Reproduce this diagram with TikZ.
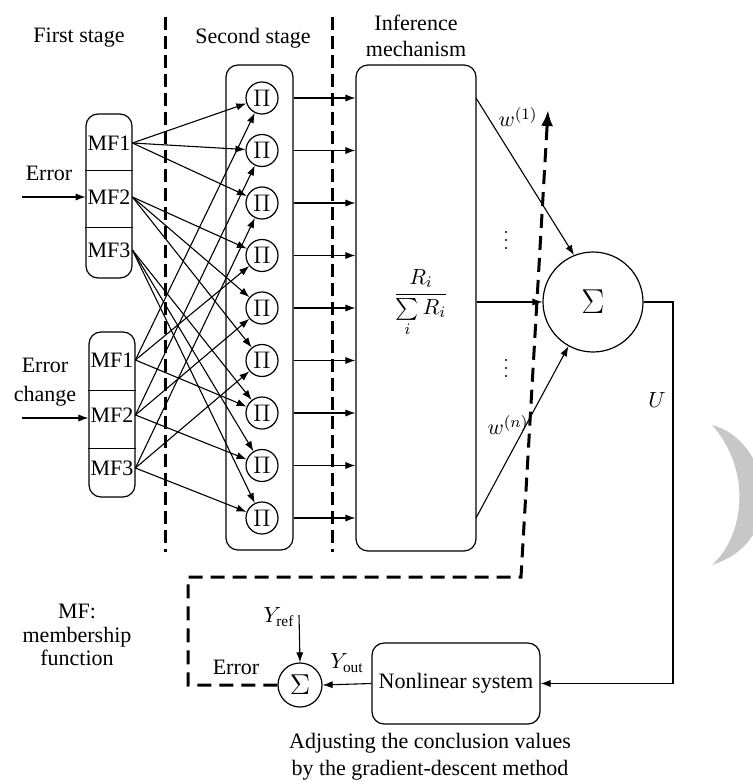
\documentclass[tikz,border=0pt]{standalone}
\usepackage{amsmath}
\usepackage{fontspec}
\setmainfont{Liberation Serif}
\usetikzlibrary{positioning, calc, arrows.meta}

\begin{document}
\begin{tikzpicture}[x=0.5pt, y=-0.5pt, font=\fontsize{11}{13}\selectfont,
    block/.style={draw, rounded corners=6pt, line width=0.6pt},
    mfcell/.style={inner sep=0pt, minimum width=23pt, minimum height=14pt},
    prod/.style={draw, circle, inner sep=0pt, minimum size=16pt, line width=0.6pt, font=\fontsize{13}{13}\selectfont},
    adder/.style={draw, circle, inner sep=0pt, line width=0.6pt},
    arrow/.style={-{Latex[length=5pt, width=3.6pt]}, line width=0.55pt},
    stagesep/.style={line width=1.5pt, dash pattern=on 6.5pt off 3pt},
    feedback/.style={line width=1.5pt, dash pattern=on 7pt off 4pt}]

  \useasboundingbox (0,0) rectangle (752,781);

  % stage titles and separators
  \node (st1) at (79,38) {First stage};
  \node (st2) at (253,38) {Second stage};
  \node[align=center] (st3) at (416,36) {Inference\\mechanism};
  \draw[stagesep] (165,17) -- (165,552);
  \draw[stagesep] (332,17) -- (332,552);

  % first stage: membership functions
  \node[block, minimum width=23pt, minimum height=82pt] (ebox) at (109,196) {};
  \node[mfcell] (e1) at (109,143) {MF1};
  \node[mfcell] (e2) at (109,197) {MF2};
  \node[mfcell] (e3) at (109,250) {MF3};
  \draw[line width=0.5pt] (ebox.west |- 0,170) -- (ebox.east |- 0,170);
  \draw[line width=0.5pt] (ebox.west |- 0,227) -- (ebox.east |- 0,227);

  \node[block, minimum width=23pt, minimum height=82.5pt] (cbox) at (112,414.5) {};
  \node[mfcell] (c1) at (112,360) {MF1};
  \node[mfcell] (c2) at (112,415) {MF2};
  \node[mfcell] (c3) at (112,468) {MF3};
  \draw[line width=0.5pt] (cbox.west |- 0,390) -- (cbox.east |- 0,390);
  \draw[line width=0.5pt] (cbox.west |- 0,448) -- (cbox.east |- 0,448);

  \node (elab) at (49,173) {Error};
  \coordinate (ein) at (22,197);
  \draw[arrow] (ein) -- (e2.west);
  \node[align=center] (clab) at (45,382) {Error\\[1.5pt]change};
  \coordinate (cin) at (22,418);
  \draw[arrow] (cin) -- (cin -| cbox.west);

  % second stage: product nodes
  \node[block, minimum width=33.5pt, minimum height=242.5pt] (sbox) at (259.5,307.5) {};
  \foreach \k in {1,...,9}
    \node[prod] (p\k) at (262,{98+52.5*(\k-1)}) {$\Pi$};

  \foreach \i in {1,2,3}
    \foreach \j in {1,2,3} {
      \pgfmathtruncatemacro\k{3*(\i-1)+\j}
      \draw[arrow] (e\i.east) -- (p\k);
      \draw[arrow] (c\j.east) -- (p\k);
    }

  % inference mechanism
  \node[block, minimum width=60pt, minimum height=243pt] (ibox) at (416,308) {};
  \node (frac) at (421,303) {$\dfrac{R_i}{\sum\limits_i R_i}$};
  \foreach \k in {1,...,9}
    \draw[arrow] (p\k -| sbox.east) -- (p\k -| ibox.west);

  % defuzzification
  \node[adder, minimum size=50pt, font=\fontsize{19}{19}\selectfont] (sum) at (593,302) {$\Sigma$};
  \coordinate (o1) at (476,98);
  \coordinate (on) at (476,518);
  \draw[arrow] (o1) -- (sum.112);
  \draw[arrow] (ibox.east |- sum) -- (sum.west);
  \draw[arrow] (on) -- (sum.241.5);
  \node (w1) at (518,117) {$w^{(1)}$};
  \node (wn) at (508,425) {$w^{(n)}$};
  % vertical dots
  \foreach \y in {232,240,248,360,368,376}
    \fill (506,\y) circle (0.55pt);

  % plant and error
  \node[block, minimum width=83.5pt, minimum height=40.5pt] (nls) at (456,683.5) {Nonlinear system};
  \node[adder, minimum size=22pt, font=\fontsize{14}{14}\selectfont] (ssum) at (300,685) {$\Sigma$};
  \coordinate (ucol) at (673,302);
  \draw[arrow] (sum.east) -- (ucol) |- (nls.east);
  \node (ulab) at (657,400) {$U$};
  \draw[arrow] (nls.west) -- (ssum.east);
  \coordinate (yref) at (299,615);
  \draw[arrow] (yref) -- (ssum.north);
  \node (yreflab) at (279,617) {$Y_{\mathrm{ref}}$};
  \node (youtlab) at (347,663) {$Y_{\mathrm{out}}$};
  \node (errlab) at (236,667) {Error};

  % gradient-descent feedback
  \coordinate (fbc2) at (188,577);
  \coordinate (fbc1) at (521,577);
  \coordinate (fbtip) at (548,110);
  \draw[feedback, -{Latex[length=8pt, width=6pt]}] (ssum.west) -| (fbc2) -- (fbc1) -- (fbtip);

  \node[align=center, font=\fontsize{11}{11.75}\selectfont] (mfnote) at (77,635) {MF:\\membership\\function};
  \node[align=center, font=\fontsize{11}{13.5}\selectfont] (caption) at (430,757) {Adjusting the conclusion values\\by the gradient-descent method};

  % grey mark at the right edge
  \fill[black!22] (712,425) .. controls (770,440) and (790,540) .. (712,565)
    .. controls (745,535) and (752,470) .. (712,425) -- cycle;
\end{tikzpicture}
\end{document}
